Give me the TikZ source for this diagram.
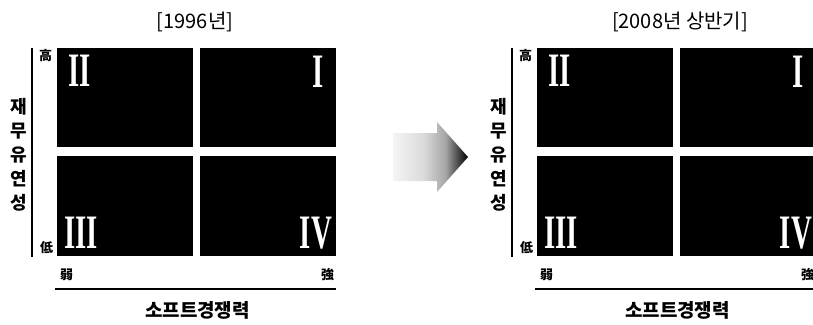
\documentclass[tikz,border=0pt]{standalone}
\usepackage{fontspec}
\usepackage{graphicx}
\newfontfamily\kr{Noto Sans CJK KR}
\newfontfamily\rmn{Liberation Serif}
\pgfdeclarehorizontalshading{arrowfade}{100bp}{color(0bp)=(black!4); color(25bp)=(black!4); color(45bp)=(black!14); color(60bp)=(black!35); color(68bp)=(black!70); color(75bp)=(black); color(100bp)=(black)}
\begin{document}
\begin{tikzpicture}[x=1pt,y=-1pt,
  quad/.style={fill=black},
  axisline/.style={draw=black, line width=1.6pt},
  numeral/.style={text=white, inner sep=0pt, font=\rmn\bfseries\fontsize{48}{48}\selectfont},
  hanja/.style={inner sep=0pt, font=\kr\bfseries\fontsize{13}{13}\selectfont},
  vlabel/.style={inner sep=0pt, align=center, font=\kr\bfseries\fontsize{18}{24}\selectfont},
  hlabel/.style={inner sep=0pt, font=\kr\bfseries\fontsize{19}{19}\selectfont},
  ttl/.style={inner sep=0pt, font=\kr\fontsize{20}{20}\selectfont}]
\useasboundingbox (0,0) rectangle (813,324);
\node[ttl] (t1) at (195,22) {[1996년]};
\node[ttl] (t2) at (680,22) {[2008년 상반기]};
\foreach \dx/\n in {0/a,480/b}{
\begin{scope}[xshift=\dx pt]
  \fill[quad] (57,48) rectangle (193,147);
  \fill[quad] (200,48) rectangle (336,147);
  \fill[quad] (57,156) rectangle (193,256);
  \fill[quad] (200,156) rectangle (336,256);
  \draw[axisline] (32,48) -- (32,257);
  \draw[axisline] (55,289) -- (336,289);
  \node[numeral, anchor=north west] (\n2) at (68,55) {\scalebox{0.6}[1]{II}};
  \node[numeral, anchor=north east] (\n1) at (324,56) {\scalebox{0.6}[1]{I}};
  \node[numeral, anchor=south west] (\n3) at (64,249) {\scalebox{0.6}[1]{III}};
  \node[numeral, anchor=south east] (\n4) at (332,249) {\scalebox{0.6}[1]{IV}};
  \node[hanja] (\n hi) at (45.5,56) {高};
  \node[hanja] (\n lo) at (46.5,248) {低};
  \node[hanja] (\n weak) at (66.5,275) {弱};
  \node[hanja] (\n strong) at (327.5,275) {強};
  \node[vlabel] (\n y) at (18.5,155) {재\\무\\유\\연\\성};
  \node[hlabel] (\n x) at (197.5,310) {소프트경쟁력};
\end{scope}}
\shade[shading=arrowfade] (393,133) -- (437,133) -- (437,122) -- (468,157) -- (437,192) -- (437,181) -- (393,181) -- cycle;
\end{tikzpicture}
\end{document}
